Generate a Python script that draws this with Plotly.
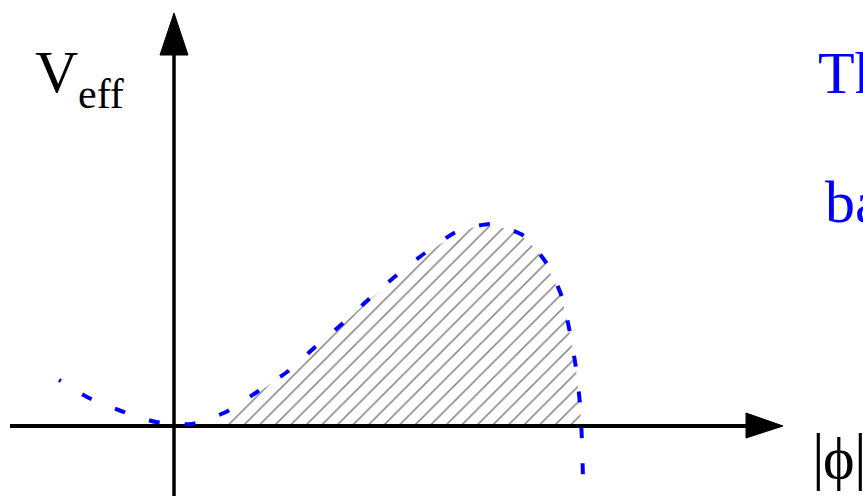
import plotly.graph_objects as go

# Effective potential curve (phi, V_eff) in arbitrary units; origin at axes crossing
phi = [-1.15, -0.87, -0.53, -0.18, 0.18, 0.52, 0.83, 1.13, 1.40, 1.68, 1.95, 2.23,
       2.51, 2.82, 3.17, 3.50, 3.73, 3.88, 3.96, 4.02, 4.06, 4.08, 4.09, 4.10]
veff = [0.46, 0.29, 0.15, 0.04, 0.02, 0.14, 0.34, 0.54, 0.78, 1.02, 1.27, 1.51,
        1.73, 1.94, 2.02, 1.90, 1.62, 1.29, 0.93, 0.58, 0.22, -0.16, -0.52, -0.70]

# Barrier (hatched) region boundary
bar_phi = [0.41, 0.52, 0.83, 1.13, 1.40, 1.68, 1.95, 2.23, 2.51, 2.82, 3.00, 3.17, 3.35, 3.50,
           3.63, 3.73, 3.88, 3.96, 4.02, 4.06, 4.07, 0.41]
bar_v = [0.0, 0.12, 0.33, 0.53, 0.77, 1.01, 1.26, 1.50, 1.72, 1.92, 1.99, 2.00, 1.97, 1.88,
         1.76, 1.60, 1.28, 0.92, 0.57, 0.21, 0.0, 0.0]

# Axes extents
x_axis_phi = [-1.64, 5.72]
y_axis_v = [-0.70, 3.71]
x_arrow_phi = [5.72, 6.09, 5.72, 5.72]
x_arrow_v = [0.13, 0.0, -0.12, 0.13]
y_arrow_phi = [-0.14, 0.0, 0.14, -0.14]
y_arrow_v = [3.71, 4.13, 3.71, 3.71]

blue = "#0000ff"
serif = "Liberation Serif, Times New Roman, DejaVu Serif, serif"

fig = go.Figure()

fig.add_trace(go.Scatter(
    x=bar_phi, y=bar_v, mode="lines", fill="toself",
    line=dict(width=0, color="rgba(0,0,0,0)"),
    fillcolor="rgba(0,0,0,0)",
    fillpattern=dict(shape="/", size=11, solidity=0.14, fgcolor="black", bgcolor="rgba(0,0,0,0)"),
    hoverinfo="skip", showlegend=False))

# axes lines
fig.add_trace(go.Scatter(x=x_axis_phi, y=[0, 0], mode="lines",
                         line=dict(color="black", width=4), hoverinfo="skip", showlegend=False))
fig.add_trace(go.Scatter(x=[0, 0], y=y_axis_v, mode="lines",
                         line=dict(color="black", width=3.5), hoverinfo="skip", showlegend=False))
fig.add_trace(go.Scatter(x=x_arrow_phi, y=x_arrow_v, mode="lines", fill="toself",
                         fillcolor="black", line=dict(color="black", width=1),
                         hoverinfo="skip", showlegend=False))
fig.add_trace(go.Scatter(x=y_arrow_phi, y=y_arrow_v, mode="lines", fill="toself",
                         fillcolor="black", line=dict(color="black", width=1),
                         hoverinfo="skip", showlegend=False))

dash = "2px,25px," + ",".join(["11px,25px"] * 30)
fig.add_trace(go.Scatter(
    x=phi, y=veff, mode="lines",
    line=dict(color=blue, width=4, dash=dash, shape="spline", smoothing=0.6),
    hoverinfo="skip", showlegend=False))


def label(x, y, text, size, color="black", anchor="left"):
    fig.add_annotation(x=x, y=y, xref="x", yref="y", text=text, showarrow=False,
                       xanchor=anchor, yanchor="middle",
                       font=dict(family=serif, size=size, color=color))


# V_eff axis label
label(-1.41, 3.54, "V", 60)
label(-0.98, 3.32, "eff", 42)
# blue side text (runs off the right edge)
label(6.42, 3.53, "The", 60, blue)
label(6.49, 2.24, "barrier", 60, blue)
# |phi| axis label
label(6.44, -0.297, "|", 63, anchor="center")
label(6.65, -0.318, "ϕ", 60, anchor="center")
label(6.86, -0.297, "|", 63, anchor="center")

fig.update_layout(
    width=863, height=496, margin=dict(l=0, r=0, t=0, b=0),
    paper_bgcolor="white", plot_bgcolor="white",
    font=dict(family=serif),
    xaxis=dict(range=[-1.74, 6.89], visible=False, fixedrange=True),
    yaxis=dict(range=[-0.70, 4.26], visible=False, fixedrange=True),
)

fig.write_html("out.html")
